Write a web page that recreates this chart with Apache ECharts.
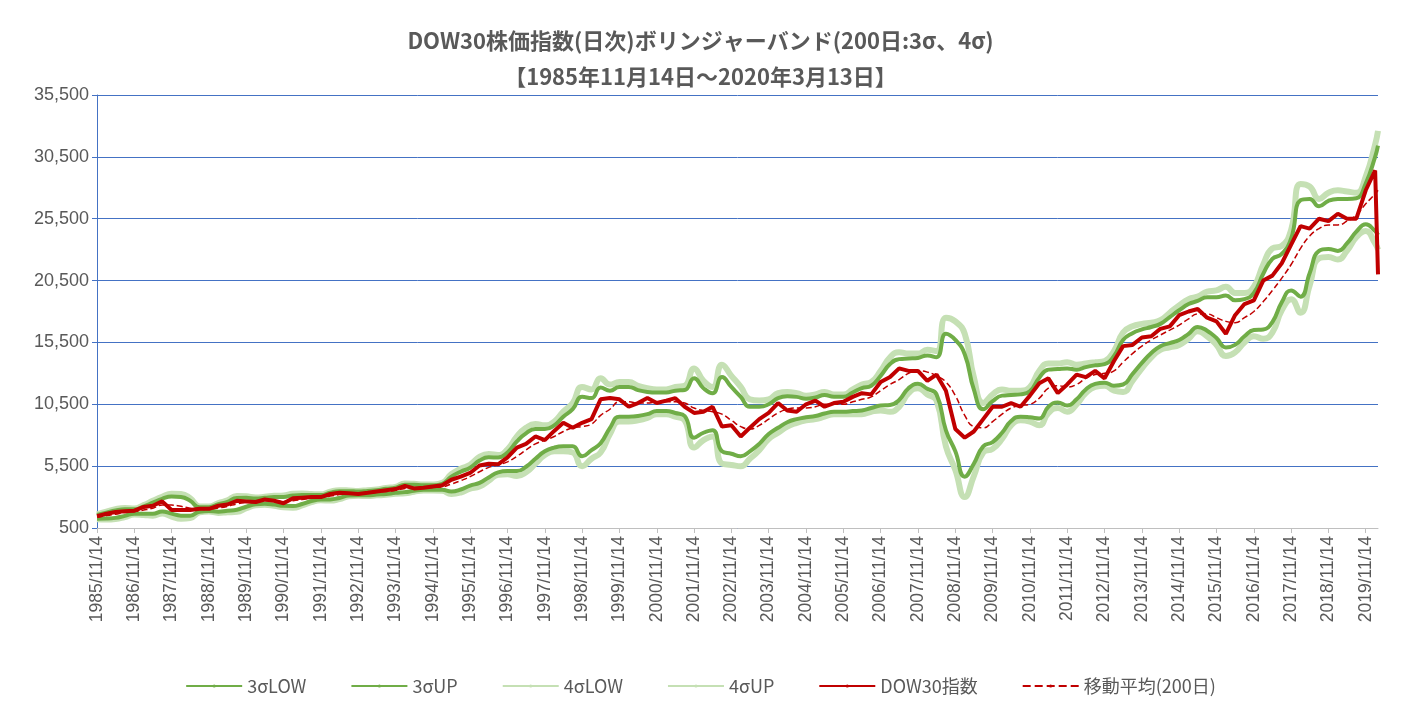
<!DOCTYPE html>
<html>
<head>
<meta charset="utf-8">
<script src="https://cdn.jsdelivr.net/npm/echarts@6/dist/echarts.min.js"></script>
<style>html,body{margin:0;padding:0;background:#fff}#main{width:1401px;height:714px}</style>
</head>
<body>
<div id="main"></div>
<script>
// quarterly sample dates (11/14, 2/14, 5/14, 8/14) + last day
var dates = [];
(function(){
    var ms = ['11','02','05','08'];
    for (var i = 0; i < 138; i++) {
        var y = 1985 + Math.floor(i / 4) + (i % 4 == 0 ? 0 : 1);
        dates.push(y + '/' + ms[i % 4] + '/14');
    }
    dates.push('2020/03/13');
})();
var dow = [1450,1650,1800,1850,1900,2200,2300,2650,1950,1950,1950,2050,2050,2300,2400,2700,2650,2600,2800,2700,2500,2900,2950,3000,3000,3250,3350,3300,3250,3350,3450,3550,3650,3900,3700,3750,3850,3950,4400,4650,4950,5550,5700,5650,6200,7000,7300,7900,7600,8350,9000,8600,9000,9300,10900,11000,10900,10300,10600,11000,10600,10800,11000,10300,9800,9900,10300,8700,8800,7900,8600,9300,9800,10600,10000,9900,10500,10800,10300,10600,10700,11100,11400,11300,12300,12700,13400,13200,13200,12400,12900,11600,8500,7800,8300,9300,10300,10300,10600,10300,11200,12200,12600,11400,12100,12900,12700,13200,12600,14000,15200,15300,15900,16000,16600,16800,17700,18000,18200,17500,17200,16200,17700,18600,18900,20500,20900,21900,23400,24900,24700,25500,25300,25900,25500,25500,27800,29400,21000];
var ma = [1400,1500,1620,1750,1830,1950,2100,2350,2350,2250,2100,2000,2030,2120,2250,2450,2580,2650,2700,2700,2650,2700,2800,2920,2980,3080,3200,3300,3300,3320,3380,3460,3550,3700,3750,3770,3780,3830,4050,4330,4650,5050,5400,5600,5850,6300,6800,7300,7600,7900,8300,8600,8700,8900,9600,10100,10700,10700,10600,10600,10700,10700,10700,10600,10200,10000,9900,9700,9200,8700,8500,8800,9300,9800,10100,10200,10200,10300,10500,10500,10500,10700,10900,11100,11600,12100,12500,13000,13200,13100,12800,12300,11200,9600,8700,8600,9100,9700,10200,10400,10500,11000,11800,12000,11900,12100,12600,12900,13000,13200,13900,14600,15200,15700,16100,16500,16900,17400,17800,17800,17500,17200,17100,17500,18000,18800,19700,20700,21800,23100,24100,24700,25000,25000,25300,25800,26700,27500,27800];
var sigma = [50,80,100,90,60,100,150,170,230,250,200,60,50,100,120,160,120,80,80,100,120,140,120,80,60,90,90,60,50,60,60,70,70,100,80,60,60,80,200,240,240,300,270,200,250,400,450,400,300,300,400,500,800,700,750,500,400,400,350,300,250,250,300,350,800,600,500,1000,900,800,600,500,400,400,350,300,250,250,250,200,200,250,300,300,400,550,550,400,350,450,500,1300,1500,1650,1000,500,550,500,350,300,350,550,500,450,500,400,300,250,250,400,600,550,450,350,300,350,400,400,350,450,550,700,600,500,500,750,850,650,700,1300,1000,600,650,700,600,450,550,1000,1200];

function ts(s){ var p = s.split('/'); return new Date(+p[0], +p[1] - 1, +p[2]).getTime(); }
function pts(arr){ return arr.map(function(v,i){ return [ts(dates[i]), v]; }); }
function band(k){ return ma.map(function(m,i){ return [ts(dates[i]), m + k * sigma[i]]; }); }

var ticks = [];
for (var y = 1985; y <= 2019; y++) ticks.push(ts(y + '/11/14'));

var dark = '#70AD47', light = '#C5E0B4', red = '#C00000';
function line(name, data, color, width, type, smooth){
    return {name: name, type: 'line', smooth: smooth, symbol: 'none', data: data,
        lineStyle: {color: color, width: width, type: type || 'solid'}, itemStyle: {color: color}};
}
var myChart = echarts.init(document.getElementById('main'));
var option = {
    animation: false,
    title: {
        text: 'DOW30株価指数(日次)ボリンジャーバンド(200日:3σ、4σ)\n【1985年11月14日～2020年3月13日】',
        left: 'center', top: 18,
        textStyle: {color: '#595959', fontSize: 22, fontWeight: 'bold', lineHeight: 36, fontFamily: 'Noto Sans CJK JP'}
    },
    legend: {
        bottom: 14, itemWidth: 56, itemHeight: 4, itemGap: 44,
        textStyle: {color: '#595959', fontSize: 18, fontFamily: 'Noto Sans CJK JP'},
        data: ['3σLOW','3σUP','4σLOW','4σUP','DOW30指数','移動平均(200日)']
    },
    grid: {left: 97, right: 23, top: 95, bottom: 186},
    xAxis: {
        type: 'value',
        min: ts('1985/11/14'), max: ts('2020/03/13'),
        axisLine: {lineStyle: {color: '#BFBFBF'}},
        axisTick: {show: true, customValues: ticks, lineStyle: {color: '#BFBFBF'}},
        splitLine: {show: false},
        axisLabel: {
            customValues: ticks, rotate: 90, color: '#595959', fontSize: 17.5, fontFamily: 'Liberation Sans',
            formatter: function(v){ var d = new Date(v); return d.getFullYear() + '/11/14'; }
        }
    },
    yAxis: {
        type: 'value', min: 500, max: 35500, interval: 5000,
        axisLine: {show: true, lineStyle: {color: '#4472C4'}},
        axisTick: {show: true, lineStyle: {color: '#4472C4'}},
        splitLine: {lineStyle: {color: '#4472C4', width: 1}},
        axisLabel: {color: '#595959', fontSize: 18, fontFamily: 'Liberation Sans',
            formatter: function(v){ return v.toLocaleString('en-US'); }}
    },
    series: [
        line('4σLOW', band(-4), light, 6, 'solid', true),
        line('4σUP', band(4), light, 6, 'solid', true),
        line('3σLOW', band(-3), dark, 4, 'solid', true),
        line('3σUP', band(3), dark, 4, 'solid', true),
        line('DOW30指数', pts(dow), red, 4, 'solid', false),
        line('移動平均(200日)', pts(ma), red, 1.5, 'dashed', true)
    ]
};
myChart.setOption(option);
</script>
</body>
</html>
